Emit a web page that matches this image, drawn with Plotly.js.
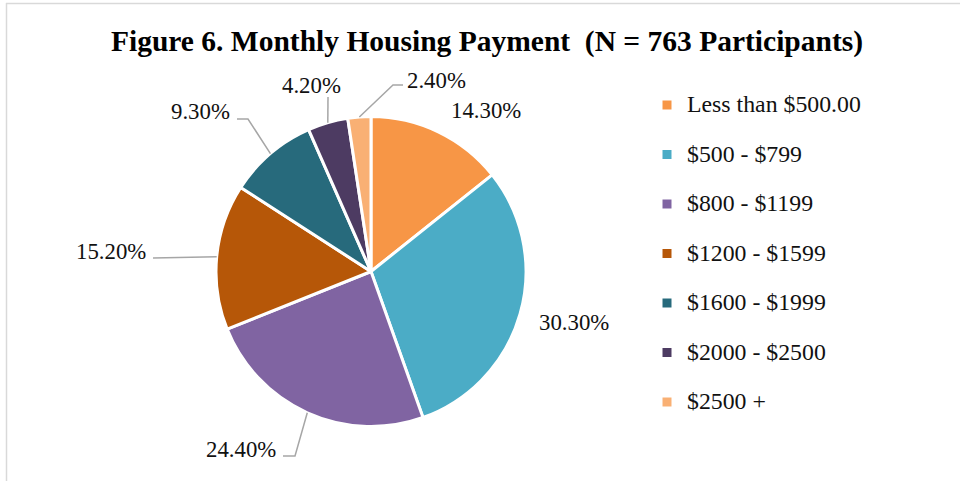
<!DOCTYPE html>
<html>
<head>
<meta charset="utf-8">
<script src="https://cdn.plot.ly/plotly-3.0.1.min.js"></script>
<style>html,body{margin:0;padding:0;background:#fff;}#chart{width:960px;height:481px;}</style>
</head>
<body>
<div id="chart"></div>
<script>
// ---- data ----
const categories = ['Less than $500.00', '$500 - $799', '$800 - $1199', '$1200 - $1599', '$1600 - $1999', '$2000 - $2500', '$2500 +'];
const values = [14.3, 30.3, 24.4, 15.2, 9.3, 4.2, 2.4];
const titleText = 'Figure 6. Monthly Housing Payment&nbsp; (N = 763 Participants)';

// ---- style / layout ----
const colors = ['#F79646', '#4BACC6', '#8064A2', '#B65708', '#276A7C', '#4D3B62', '#F9B074'];
const W = 960, H = 481;
const cx = 371, cy = 271.5, R = 155;           // pie centre / radius in px
const labelPos = [[486.5, 110.5], [573.5, 322.5], [240.5, 449.5], [111, 251], [200, 111.3], [311, 85.8], [436, 80]];
const leaderPts = [null, null, [[283, 456], [295, 456]], [[153, 258]], [[237, 119], [248, 119]], [[328, 97]], [[403, 85], [393, 85]]];
const serif = 'Liberation Serif, Times New Roman, serif';

const px = x => x / W;
const py = y => 1 - y / H;

// mid-angle edge points computed from data
const total = values.reduce((a, b) => a + b, 0);
let cum = 0;
const edgePts = values.map(v => {
  const mid = (cum + v / 2) / total * 2 * Math.PI;
  cum += v;
  return [cx + R * Math.sin(mid), cy - R * Math.cos(mid)];
});

const annotations = values.map((v, i) => ({
  text: v.toFixed(2) + '%',
  x: px(labelPos[i][0]), y: py(labelPos[i][1]),
  xref: 'paper', yref: 'paper', xanchor: 'center', yanchor: 'middle',
  showarrow: false,
  font: {family: serif, size: 22.8, color: '#111'}
}));

const shapes = [];
leaderPts.forEach((pts, i) => {
  if (!pts) return;
  const all = pts.concat([edgePts[i]]);
  const path = all.map((p, k) => (k ? 'L' : 'M') + px(p[0]).toFixed(5) + ',' + py(p[1]).toFixed(5)).join(' ');
  shapes.push({type: 'path', xref: 'paper', yref: 'paper', path: path, line: {color: '#A6A6A6', width: 1.5}});
});
// chart frame (top and left edges)
shapes.push({type: 'line', xref: 'paper', yref: 'paper', x0: px(6), x1: 1, y0: py(3.5), y1: py(3.5), line: {color: '#D9D9D9', width: 1.5}});
shapes.push({type: 'line', xref: 'paper', yref: 'paper', x0: px(6.5), x1: px(6.5), y0: py(3), y1: 0, line: {color: '#D9D9D9', width: 1.5}});

const trace = {
  type: 'pie',
  labels: categories.map(c => '<span style="font-size:23.8px">' + c + '</span><br>&nbsp;'),
  values: values,
  sort: false,
  direction: 'clockwise',
  rotation: 0,
  textinfo: 'none',
  hoverinfo: 'none',
  marker: {colors: colors, line: {color: '#FFFFFF', width: 3}},
  domain: {x: [px(cx - R), px(cx + R)], y: [py(cy + R), py(cy - R)]}
};

const layout = {
  width: W, height: H,
  margin: {l: 0, r: 0, t: 0, b: 0},
  paper_bgcolor: '#FFFFFF',
  title: {text: '<b>' + titleText + '</b>', x: px(487), xanchor: 'center', y: py(41), yanchor: 'middle', yref: 'container',
          font: {family: serif, size: 29.5, color: '#000'}},
  showlegend: true,
  legend: {x: px(647), xanchor: 'left', y: py(87), yanchor: 'top', valign: 'top',
           font: {family: serif, size: 17.88, color: '#111'}, bgcolor: 'rgba(0,0,0,0)'},
  annotations: annotations,
  shapes: shapes
};

Plotly.newPlot('chart', [trace], layout, {staticPlot: true, displayModeBar: false});
</script>
</body>
</html>
